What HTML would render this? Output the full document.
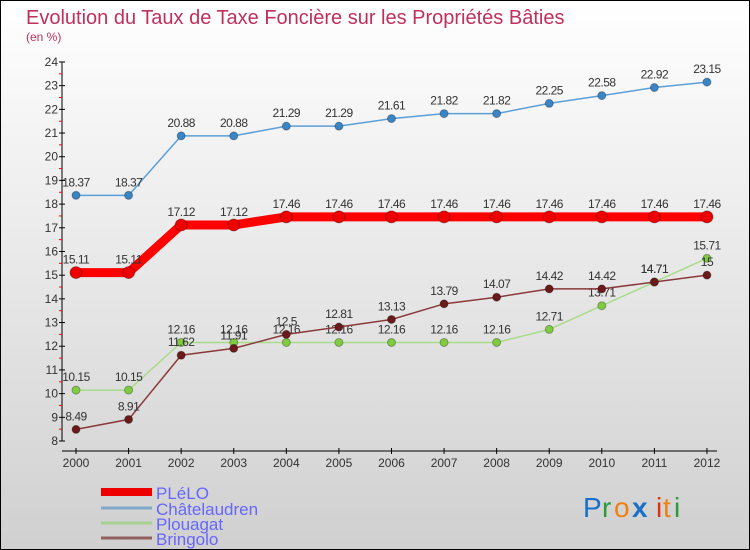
<!DOCTYPE html>
<html><head><meta charset="utf-8"><style>
body{margin:0}
#wrap{position:relative;width:748px;height:548px;border:1px solid #000;background:linear-gradient(#fff,#d0d0d0);font-family:"Liberation Sans",sans-serif;overflow:hidden}
</style></head><body>
<div id="wrap">
<svg id="chart" width="748" height="548" style="position:absolute;left:0;top:0">
<text x="25" y="23" font-size="20" fill="#c0305a">Evolution du Taux de Taxe Foncière sur les Propriétés Bâties</text>
<text x="25" y="40" font-size="12" fill="#c0305a">(en %)</text>
<g id="axes"></g><g id="series"></g>
<g>
<line x1="100" y1="491" x2="151" y2="491" stroke="#e00" stroke-width="8"/>
<text x="155" y="498" font-size="17" fill="#6666ff">PLéLO</text>
<line x1="100" y1="507" x2="151" y2="507" stroke="#80a8c8" stroke-width="3"/>
<text x="155" y="514" font-size="17" fill="#6666ff">Châtelaudren</text>
<line x1="100" y1="522" x2="151" y2="522" stroke="#a8d090" stroke-width="3"/>
<text x="155" y="529" font-size="17" fill="#6666ff">Plouagat</text>
<line x1="100" y1="537" x2="151" y2="537" stroke="#906060" stroke-width="3"/>
<text x="155" y="544" font-size="17" fill="#6666ff">Bringolo</text>
</g>
<g font-size="28">
<text x="582" y="516" fill="#1a70c8">P</text><text x="601" y="516" fill="#2a9a3a">r</text><text x="613" y="516" fill="#f08010">o</text><text x="631" y="516" fill="#1a70c8" font-weight="bold">x</text><text x="655" y="516" fill="#e03010">i</text><text x="662" y="516" fill="#f08010">t</text><text x="673" y="516" fill="#2a9a3a">i</text>
</g>
</svg>
</div>
<script>
const years=["2000","2001","2002","2003","2004","2005","2006","2007","2008","2009","2010","2011","2012"];
const plelo=[15.11,15.11,17.12,17.12,17.46,17.46,17.46,17.46,17.46,17.46,17.46,17.46,17.46];
const chatelaudren=[18.37,18.37,20.88,20.88,21.29,21.29,21.61,21.82,21.82,22.25,22.58,22.92,23.15];
const plouagat=[10.15,10.15,12.16,12.16,12.16,12.16,12.16,12.16,12.16,12.71,13.71,14.71,15.71];
const bringolo=[8.49,8.91,11.62,11.91,12.5,12.81,13.13,13.79,14.07,14.42,14.42,14.71,15];
const yTicks=[8,9,10,11,12,13,14,15,16,17,18,19,20,21,22,23,24];
const NS="http://www.w3.org/2000/svg";
const X=i=>75+i*52.58, Y=v=>440-(v-8)*23.69;
function mk(t,a,p){const e=document.createElementNS(NS,t);for(const k in a)e.setAttribute(k,a[k]);p.appendChild(e);return e;}
const ax=document.getElementById('axes'), sg=document.getElementById('series');
let l=mk('line',{x1:61,y1:Y(24),x2:61,y2:Y(8),stroke:'#000'},ax);


yTicks.forEach(v=>{
 mk('line',{x1:58,x2:64,y1:Y(v),y2:Y(v),stroke:'#000'},ax);
 if(v<24) mk('line',{x1:58,x2:61,y1:Y(v+0.5),y2:Y(v+0.5),stroke:'#f00'},ax);
 const t=mk('text',{x:57,y:Y(v)+4,'text-anchor':'end','font-size':12,fill:'#333'},ax);t.textContent=v;
 
 
});
l=mk('line',{x1:61,y1:450,x2:716,y2:450,stroke:'#000'},ax);


years.forEach((y,i)=>{
 mk('line',{x1:X(i),x2:X(i),y1:447,y2:453,stroke:'#000'},ax);
 const t=mk('text',{x:X(i),y:466,'text-anchor':'middle','font-size':12,fill:'#333'},ax);t.textContent=y;
 
 
});
function series(d,name,color,w,r,fill){
 const g=mk('g',{},sg);
 
 
 mk('polyline',{points:d.map((v,i)=>X(i)+','+Y(v)).join(' '),fill:'none',stroke:color,'stroke-width':w},g);
 d.forEach((v,i)=>{
  const c=mk('circle',{cx:X(i),cy:Y(v),r:r,fill:fill,stroke:'rgba(0,0,0,0.3)'},g);
  
  
  const t=mk('text',{x:X(i),y:Y(v)-9,'text-anchor':'middle','font-size':12,fill:'#333','letter-spacing':'-0.5'},g);t.textContent=v;
  
  
 });
}
series(chatelaudren,'chatelaudren','#5a9fd8',1.5,4,'#3a85c5');
series(plelo,'plelo','#f00',9,6,'#e00');
series(plouagat,'plouagat','#a8dc88',1.5,4,'#80cc40');
series(bringolo,'bringolo','#8a3a3a',1.5,4,'#6a1a1a');
</script>
</body></html>
